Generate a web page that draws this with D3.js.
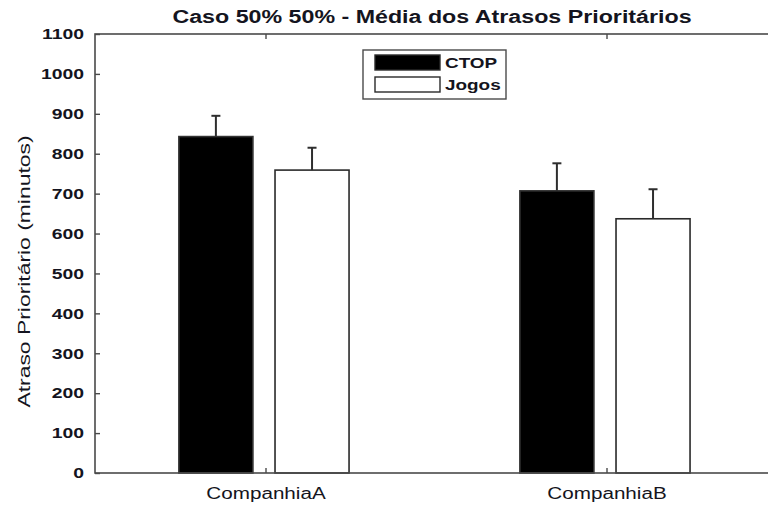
<!DOCTYPE html>
<html>
<head>
<meta charset="utf-8">
<script src="https://cdn.jsdelivr.net/npm/d3@7"></script>
<style>
  html, body { margin: 0; padding: 0; background: #fff; }
  svg { display: block; font-family: "Liberation Sans", Arial, Helvetica, sans-serif; }
</style>
</head>
<body>
<svg id="chart" width="768" height="506"></svg>
<script>
// Average priority delay per company, for the two methods
const categories = ["CompanhiaA", "CompanhiaB"];
const series = ["CTOP", "Jogos"];
const ctopValues = [843, 707];
const jogosValues = [759, 637];
const ctopErrors = [52, 69];
const jogosErrors = [56, 74];
const yTickValues = [0, 100, 200, 300, 400, 500, 600, 700, 800, 900, 1000, 1100];
const titleText = "Caso 50% 50% - Média dos Atrasos Prioritários";
const yLabelText = "Atraso Prioritário (minutos)";

const seriesColors = { CTOP: "#000", Jogos: "#fff" };
const rows = categories.map((c, i) => ({
  category: c,
  bars: [
    { key: "CTOP", value: ctopValues[i], err: ctopErrors[i] },
    { key: "Jogos", value: jogosValues[i], err: jogosErrors[i] }
  ]
}));

const svg = d3.select("#chart");
const plotLeft = 95, plotRight = 777, plotTop = 34, plotBottom = 473;
const axisColor = "#4a4a4a";
const textColor = "#141420";
const wide = 1.29; // horizontal widening applied to the text

const x0 = d3.scaleBand().domain(categories).range([plotLeft, plotRight]);
const x1 = d3.scaleBand().domain(series)
  .range([x0.bandwidth() * 0.246, x0.bandwidth() * 0.745])
  .paddingInner(0.23);
const y = d3.scaleLinear().domain([0, 1100]).range([plotBottom, plotTop]);

// stretch a text element horizontally by a factor
function stretch(sel, factor) {
  sel.each(function () {
    const w = this.getComputedTextLength();
    d3.select(this).attr("textLength", w * factor).attr("lengthAdjust", "spacingAndGlyphs");
  });
}

// bars
const groups = svg.append("g").selectAll("g").data(rows).join("g")
  .attr("transform", d => `translate(${x0(d.category)},0)`);

groups.selectAll("rect").data(d => d.bars).join("rect")
  .attr("x", d => x1(d.key))
  .attr("y", d => y(d.value))
  .attr("width", x1.bandwidth())
  .attr("height", d => y(0) - y(d.value))
  .attr("fill", d => seriesColors[d.key])
  .attr("stroke", d => d.key === "CTOP" ? "#333" : "#2a2a2a")
  .attr("stroke-width", 1.6);

// error bars (upper half)
const eb = groups.selectAll("g.err").data(d => d.bars).join("g").attr("class", "err")
  .attr("stroke", "#2e2e2e").attr("stroke-width", 2);
eb.append("line")
  .attr("x1", d => x1(d.key) + x1.bandwidth() / 2)
  .attr("x2", d => x1(d.key) + x1.bandwidth() / 2)
  .attr("y1", d => y(d.value))
  .attr("y2", d => y(d.value + d.err));
eb.append("line")
  .attr("x1", d => x1(d.key) + x1.bandwidth() / 2 - 4.5)
  .attr("x2", d => x1(d.key) + x1.bandwidth() / 2 + 4.5)
  .attr("y1", d => y(d.value + d.err))
  .attr("y2", d => y(d.value + d.err));

// frame
svg.append("rect")
  .attr("x", plotLeft).attr("y", plotTop)
  .attr("width", plotRight - plotLeft).attr("height", plotBottom - plotTop)
  .attr("fill", "none").attr("stroke", axisColor).attr("stroke-width", 1.6);

// left axis
const yAxisL = svg.append("g").attr("transform", `translate(${plotLeft},0)`)
  .call(d3.axisLeft(y).tickValues(yTickValues).tickSize(-5).tickPadding(11).tickFormat(d3.format("d")));
yAxisL.select(".domain").remove();
yAxisL.selectAll("line").attr("stroke", axisColor).attr("stroke-width", 1.4);
yAxisL.selectAll("text")
  .attr("fill", textColor).attr("font-size", 15).attr("font-weight", "bold")
  .call(stretch, wide);

// right axis ticks
const yAxisR = svg.append("g").attr("transform", `translate(${plotRight},0)`)
  .call(d3.axisRight(y).tickValues(yTickValues.slice(1, -1)).tickSize(-8).tickFormat(""));
yAxisR.select(".domain").remove();
yAxisR.selectAll("line").attr("stroke", axisColor).attr("stroke-width", 1.4);

// bottom axis
const xCenter = d3.scalePoint().domain(categories).range([x0(categories[0]) + x0.bandwidth() / 2, x0(categories[1]) + x0.bandwidth() / 2]);
const xAxisB = svg.append("g").attr("transform", `translate(0,${plotBottom})`)
  .call(d3.axisBottom(xCenter).tickSize(-5).tickPadding(15));
xAxisB.select(".domain").remove();
xAxisB.selectAll("line").attr("stroke", axisColor).attr("stroke-width", 1.4);
xAxisB.selectAll("text")
  .attr("fill", textColor).attr("font-size", 16)
  .call(stretch, wide);

// top ticks
const xAxisT = svg.append("g").attr("transform", `translate(0,${plotTop})`)
  .call(d3.axisTop(xCenter).tickSize(-5).tickFormat(""));
xAxisT.select(".domain").remove();
xAxisT.selectAll("line").attr("stroke", axisColor).attr("stroke-width", 1.4);

// title
svg.append("text")
  .attr("x", (plotLeft + plotRight) / 2 - 4).attr("y", 22.5)
  .attr("text-anchor", "middle")
  .attr("font-size", 18).attr("font-weight", "bold").attr("fill", textColor)
  .text(titleText)
  .call(stretch, wide);

// y label
svg.append("text")
  .attr("transform", `translate(30,${(plotTop + plotBottom) / 2 + 18}) rotate(-90)`)
  .attr("text-anchor", "middle")
  .attr("font-size", 16).attr("fill", textColor)
  .text(yLabelText)
  .call(stretch, 1.43);

// legend
const legend = svg.append("g").attr("transform", "translate(363,50)");
legend.append("rect").attr("width", 143).attr("height", 49)
  .attr("fill", "#fff").attr("stroke", axisColor).attr("stroke-width", 1.4);
const legendItems = legend.selectAll("g.item").data(series).join("g").attr("class", "item")
  .attr("transform", (d, i) => `translate(12,${5 + i * 22})`);
legendItems.append("rect")
  .attr("width", 65).attr("height", 15)
  .attr("fill", d => seriesColors[d]).attr("stroke", "#2a2a2a").attr("stroke-width", 1.4);
legendItems.append("text")
  .attr("x", 70).attr("y", 13)
  .attr("font-size", 14).attr("font-weight", "bold").attr("fill", textColor)
  .text(d => d)
  .call(stretch, 1.35);
</script>
</body>
</html>
